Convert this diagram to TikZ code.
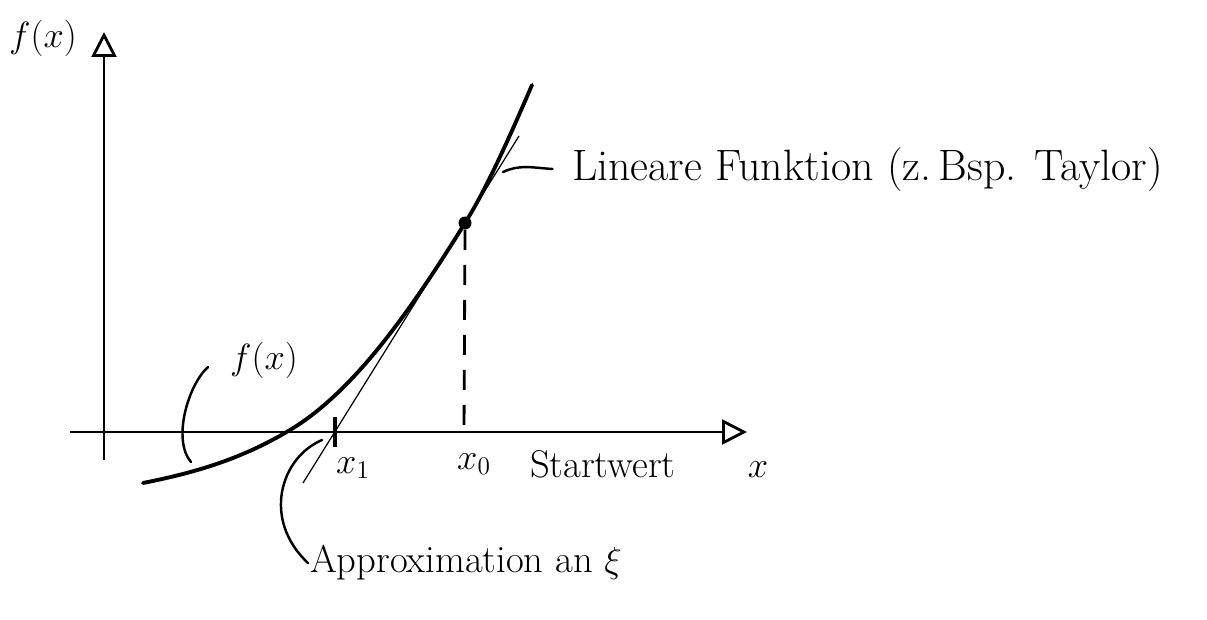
\documentclass[tikz,border=0pt]{standalone}
\usepackage{amsmath}
\usepackage{tikz}
\usetikzlibrary{arrows.meta,positioning,calc}

\begin{document}
\begin{tikzpicture}[
    x=0.02cm,
    y=-0.02cm,
    font=\fontsize{22}{26}\selectfont,
    axis/.style={draw=black,line width=1.6pt,-{Triangle[open,length=0.5cm,width=0.5cm,line width=1.6pt]}},
    fcurve/.style={draw=black,line width=2.2pt,line cap=round},
    tangentline/.style={draw=black,line width=0.7pt},
    guide/.style={draw=black,line width=1.6pt,dash pattern=on 0.4cm off 0.3cm},
    leader/.style={draw=black,line width=1.4pt,line cap=round},
    tick/.style={draw=black,line width=1.8pt},
    startpoint/.style={circle,fill=black,minimum size=0.26cm,inner sep=0pt},
    label/.style={inner sep=1pt},
    comment/.style={anchor=west,inner sep=1pt}
  ]
    \useasboundingbox (0,0) rectangle (1207,619);

    % axes
    \coordinate (xstart) at (70,432);
    \coordinate (xend) at (747,432);
    \coordinate (ystart) at (104,460);
    \coordinate (yend) at (104,32);
    \draw[axis] (xstart) -- (xend);
    \draw[axis] (ystart) -- (yend);
    \node[label] (ylabel) at (43,38) {$f(x)$};
    \node[label] (xlabel) at (758,470) {$x$};

    % function and tangent
    \coordinate (fstart) at (143,483);
    \coordinate (root) at (290,430);
    \coordinate (fend) at (532,85);
    \node[startpoint] (xnull) at (465,223) {};
    \draw[fcurve] (fstart) .. controls (193,473) and (240,460) .. (root)
      .. controls (350,394) and (405,320) .. (xnull.center)
      .. controls (487,188) and (510,136) .. (fend);
    \coordinate (tanlow) at (303,483);
    \coordinate (tanhigh) at (519,136);
    \draw[tangentline] (tanlow) -- (tanhigh);

    % starting value
    \coordinate (xnullfoot) at (464,432);
    \draw[guide] (xnull.south) -- (xnullfoot);
    \node[label] (xnulllabel) at (474,464) {$x_0$};
    \node[comment] (startwert) at (528,464) {Startwert};

    % first iterate
    \coordinate (xeinsup) at (335,417);
    \coordinate (xeinsdown) at (335,447);
    \draw[tick] (xeinsup) -- (xeinsdown);
    \node[label] (xeinslabel) at (353,468) {$x_1$};

    % annotations
    \node[label] (flabel) at (264,360) {$f(x)$};
    \coordinate (fbrackettop) at (208,367);
    \coordinate (fbracketend) at (191,462);
    \draw[leader] (fbrackettop) .. controls (188,385) and (172,440) .. (fbracketend);

    \node[comment,font=\fontsize{25}{30}\selectfont] (linear) at (570,170) {Lineare Funktion (z.\,Bsp. Taylor)};
    \coordinate (linearfrom) at (503,172);
    \draw[leader,shorten >=0.35cm] (linearfrom) .. controls (520,164) and (535,168) .. (linear.west);

    \node[comment] (approx) at (308,563) {Approximation an $\xi$};
    \coordinate (approxfrom) at (322,440);
    \draw[leader] (approxfrom) .. controls (280,458) and (262,520) .. (approx.west);
  \end{tikzpicture}
\end{document}
